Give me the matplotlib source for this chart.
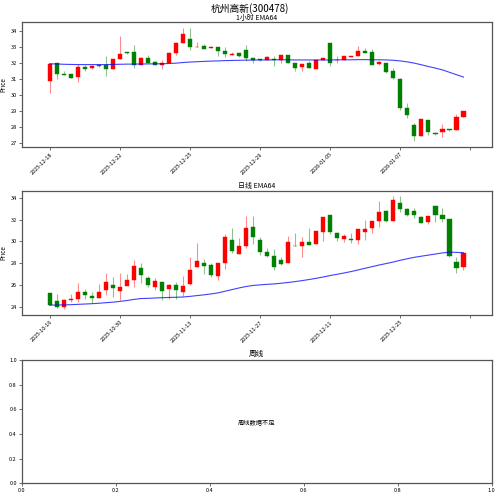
import matplotlib
matplotlib.use("Agg")
import matplotlib.pyplot as plt
import numpy as np

plt.rcParams['font.family'] = ['Noto Sans CJK SC', 'DejaVu Sans']
plt.rcParams['axes.unicode_minus'] = False

title = "杭州高新(300478)"

# ---------------- hourly (1小时) ----------------
h_open = [30.90, 31.99, 31.32, 31.30, 31.15, 31.72, 31.67, 31.86, 31.85, 31.63,
          32.24, 32.66, 32.68, 31.86, 32.32, 32.05, 31.86, 31.99, 32.62, 33.25,
          33.50, 32.98, 33.08, 32.91, 32.97, 32.76, 32.53, 32.62, 32.80, 32.30,
          32.25, 32.20, 32.24, 32.20, 32.49, 31.99, 31.74, 31.99, 31.65, 32.20,
          33.22, 32.16, 32.20, 32.40, 32.45, 32.76, 32.66, 31.95, 31.99, 31.50,
          31.02, 29.20, 28.11, 27.42, 28.42, 27.63, 27.69, 27.86, 27.80, 28.60]
h_close = [31.95, 31.32, 31.28, 31.07, 31.72, 31.65, 31.84, 31.80, 31.63, 32.27,
           32.59, 32.60, 31.86, 32.32, 31.99, 31.88, 32.03, 32.64, 33.27, 33.81,
           32.99, 33.01, 32.89, 32.97, 32.78, 32.55, 32.58, 32.43, 32.32, 32.16,
           32.20, 32.40, 32.16, 32.47, 31.99, 31.67, 31.95, 31.69, 32.18, 32.30,
           32.03, 32.20, 32.41, 32.43, 32.72, 32.65, 31.90, 32.07, 31.46, 31.04,
           29.16, 28.72, 27.42, 28.47, 27.67, 27.56, 27.86, 27.82, 28.63, 28.99]
h_high = [31.97, 32.00, 31.50, 31.32, 31.95, 31.85, 31.88, 31.87, 32.41, 32.27,
          33.71, 32.68, 33.10, 32.35, 32.47, 32.10, 32.16, 32.66, 33.33, 34.19,
          34.19, 33.29, 33.16, 33.06, 32.99, 32.97, 32.68, 32.60, 33.14, 32.30,
          32.28, 32.42, 32.42, 32.47, 32.50, 31.99, 31.95, 32.13, 32.18, 32.32,
          33.27, 32.43, 32.45, 32.45, 33.08, 32.91, 32.87, 32.15, 31.99, 31.67,
          31.04, 29.51, 28.26, 28.47, 28.45, 27.67, 28.17, 27.90, 28.84, 28.99]
h_low = [30.10, 31.02, 31.28, 31.05, 30.83, 31.50, 31.65, 31.77, 31.21, 31.63,
         32.24, 32.55, 31.71, 31.86, 31.99, 31.85, 31.61, 31.99, 32.51, 33.25,
         32.83, 32.97, 32.89, 32.91, 32.43, 32.35, 32.50, 32.40, 32.15, 32.00,
         32.12, 32.20, 31.82, 31.97, 31.99, 31.53, 31.53, 31.69, 31.65, 32.20,
         31.82, 32.03, 32.20, 32.38, 32.43, 32.60, 31.85, 31.86, 31.36, 31.00,
         29.05, 28.59, 27.12, 27.42, 27.48, 27.50, 27.38, 27.78, 27.80, 28.60]
h_ema = [31.95, 31.94, 31.92, 31.91, 31.90, 31.90, 31.90, 31.90, 31.90, 31.91,
         31.92, 31.93, 31.93, 31.94, 31.94, 31.95, 31.95, 31.97, 31.99, 32.03,
         32.06, 32.08, 32.10, 32.12, 32.13, 32.15, 32.16, 32.17, 32.18, 32.18,
         32.19, 32.19, 32.20, 32.20, 32.20, 32.19, 32.19, 32.19, 32.19, 32.19,
         32.19, 32.20, 32.20, 32.20, 32.21, 32.21, 32.20, 32.20, 32.19, 32.17,
         32.13, 32.07, 31.99, 31.89, 31.78, 31.68, 31.57, 31.42, 31.27, 31.12]
h_tick_labels = ['2025-12-18', '2025-12-22', '2025-12-25', '2025-12-29',
                 '2026-01-05', '2026-01-07', '']

# ---------------- daily (日线) ----------------
d_open = [25.29, 24.55, 24.00, 24.61, 24.71, 25.38, 25.01, 24.80, 25.60, 26.02,
          25.47, 25.96, 26.48, 27.53, 26.70, 25.84, 26.30, 25.63, 25.99, 25.41,
          26.15, 27.68, 27.99, 27.86, 26.88, 27.99, 30.17, 28.85, 29.55, 31.30,
          30.14, 29.03, 28.69, 28.29, 27.99, 29.62, 29.56, 29.98, 29.74, 30.87,
          32.44, 30.78, 30.23, 30.26, 30.13, 30.90, 31.24, 31.88, 32.74, 31.91,
          33.51, 32.93, 32.77, 32.19, 31.73, 33.20, 32.41, 32.01, 28.08, 27.62]
d_close = [24.18, 24.00, 24.61, 24.74, 25.35, 25.10, 24.83, 25.38, 26.27, 25.72,
           25.84, 26.45, 27.80, 26.94, 26.00, 26.36, 25.47, 25.99, 25.53, 25.93,
           27.40, 28.17, 27.80, 26.94, 27.99, 30.44, 29.12, 29.55, 31.24, 30.41,
           29.03, 28.66, 27.68, 27.96, 29.92, 29.56, 29.92, 29.71, 30.96, 32.22,
           30.90, 30.32, 30.47, 30.13, 31.09, 31.12, 31.88, 32.65, 31.91, 33.75,
           32.96, 32.41, 32.41, 31.67, 32.28, 32.41, 32.01, 28.70, 27.53, 28.97]
d_high = [25.30, 25.17, 24.70, 25.17, 26.21, 25.63, 25.41, 26.09, 27.07, 26.79,
          27.07, 26.98, 28.29, 27.99, 26.85, 26.64, 26.30, 26.10, 26.33, 26.85,
          28.60, 29.86, 28.39, 28.00, 28.00, 30.69, 31.21, 30.29, 32.28, 32.28,
          30.44, 29.43, 29.28, 28.54, 30.47, 30.75, 30.38, 31.21, 30.96, 32.22,
          32.44, 30.90, 30.69, 30.81, 31.09, 31.98, 31.88, 33.69, 32.90, 34.12,
          34.12, 33.08, 33.05, 32.34, 32.34, 33.20, 33.08, 32.01, 28.54, 28.97]
d_low = [24.15, 23.88, 23.82, 24.49, 24.49, 24.77, 24.34, 24.80, 25.10, 24.95,
         24.61, 26.00, 25.87, 26.18, 25.87, 25.53, 24.67, 24.77, 24.71, 25.01,
         25.99, 27.65, 27.00, 26.76, 26.45, 27.47, 28.94, 28.85, 29.40, 29.77,
         28.75, 28.60, 27.37, 27.86, 27.99, 29.55, 28.54, 29.70, 29.74, 30.04,
         30.70, 30.07, 29.98, 29.83, 29.77, 30.13, 30.78, 31.30, 31.76, 31.91,
         32.68, 32.31, 32.16, 31.67, 31.60, 31.82, 31.73, 28.54, 27.07, 27.37]
d_ema = [24.18, 24.19, 24.20, 24.22, 24.25, 24.28, 24.31, 24.35, 24.40, 24.45,
         24.52, 24.60, 24.70, 24.78, 24.80, 24.83, 24.86, 24.88, 24.90, 24.92,
         24.98, 25.05, 25.12, 25.20, 25.30, 25.45, 25.60, 25.75, 25.88, 25.98,
         26.03, 26.08, 26.12, 26.18, 26.25, 26.33, 26.42, 26.52, 26.63, 26.75,
         26.88, 27.00, 27.12, 27.25, 27.40, 27.55, 27.70, 27.85, 27.98, 28.12,
         28.28, 28.42, 28.55, 28.65, 28.75, 28.85, 28.95, 29.02, 29.00, 28.97]
d_tick_labels = ['2025-10-16', '2025-10-30', '2025-11-13', '2025-11-27',
                 '2025-12-11', '2025-12-25', '']

SPINE = '#555555'


def style_axes(ax):
    for s in ax.spines.values():
        s.set_color(SPINE)
        s.set_linewidth(0.9)
    ax.tick_params(axis='both', labelsize=4, length=2, width=0.6, color=SPINE, pad=1.5)


def candles(ax, o, c, h, l, ema, tick_labels, sub_title):
    o, c, h, l = map(np.asarray, (o, c, h, l))
    x = np.arange(len(o))
    up = c >= o
    cols = np.where(up, 'red', 'green')
    ax.vlines(x, l, h, colors=cols, linewidth=0.8, alpha=0.45, zorder=1)
    ax.bar(x, np.abs(c - o), bottom=np.minimum(o, c), width=0.6,
           color=cols, edgecolor=cols, linewidth=0.3, zorder=2)
    ax.plot(x, ema, color='blue', linewidth=0.8, alpha=0.75, zorder=3)
    ticks = np.arange(0, len(o) + 1, 10)
    ax.set_xticks(ticks)
    ax.set_xticklabels(tick_labels, rotation=45, ha='right', rotation_mode='anchor')
    ax.set_xlim(-4, len(o) + 3)
    ax.set_ylabel('Price', fontsize=4.5, labelpad=2)
    ax.set_title(sub_title, fontsize=5, pad=2)
    style_axes(ax)


fig = plt.figure(figsize=(5.0, 4.97), dpi=100)
ax1 = fig.add_axes([0.0434, 0.7048, 0.9396, 0.2503])
ax2 = fig.add_axes([0.0434, 0.3668, 0.9396, 0.2495])
ax3 = fig.add_axes([0.0434, 0.0276, 0.9396, 0.2480])

candles(ax1, h_open, h_close, h_high, h_low, h_ema, h_tick_labels, '1小时 EMA64')
candles(ax2, d_open, d_close, d_high, d_low, d_ema, d_tick_labels, '日线 EMA64')

ax3.set_title('周线', fontsize=5.5, pad=3)
ax3.text(0.5, 0.5, '周线数据不足', ha='center', va='center', fontsize=4.5,
         transform=ax3.transAxes)
ax3.set_xlim(0, 1)
ax3.set_ylim(0, 1)
style_axes(ax3)

fig.suptitle(title, fontsize=7, y=0.993)

fig.savefig('out.png', dpi=100)
